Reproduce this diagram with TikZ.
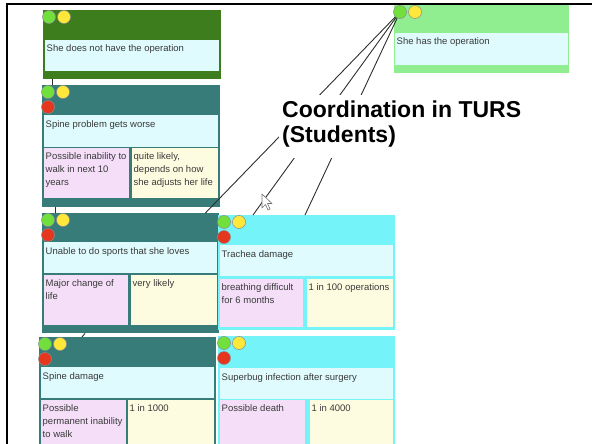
\documentclass[tikz,border=0pt]{standalone}
\usepackage{fontspec}
\setmainfont{Liberation Sans}
\usetikzlibrary{positioning, calc}
\definecolor{dkgreen}{HTML}{3E7D1E}
\definecolor{ltgreen}{HTML}{90EE90}
\definecolor{cardteal}{HTML}{387C7A}
\definecolor{brcyan}{HTML}{74F3F8}
\definecolor{bandcyan}{HTML}{DFFBFD}
\definecolor{pinkcell}{HTML}{F4DEF8}
\definecolor{creamcell}{HTML}{FEFCE0}
\definecolor{dotgreen}{HTML}{72E03C}
\definecolor{dotyellow}{HTML}{FFE83A}
\definecolor{dotred}{HTML}{E5361E}
\definecolor{txtgray}{HTML}{3A3A3A}
\definecolor{linkgray}{HTML}{2E2E2E}

\begin{document}
\begin{tikzpicture}[x=1pt, y=-1pt,
  card/.style={fill=#1, anchor=north west, inner sep=0pt},
  cardtext/.style={anchor=north west, inner sep=1.5pt, text=txtgray, align=left,
    font=\fontsize{9.5}{12.8}\selectfont},
  dot/.style={circle, fill=#1, draw=black!45, line width=0.5pt, minimum size=13pt, inner sep=0pt},
  link/.style={linkgray, line width=0.9pt},
  bigtext/.style={anchor=north west, inner sep=0pt, align=left,
    font=\fontsize{23}{24.5}\selectfont\bfseries}]

\useasboundingbox (0,0) rectangle (592,444);
\clip (0,0) rectangle (592,444);

% Cards (outer boxes)
\node[card=dkgreen, minimum width=178pt, minimum height=69pt] (nothave) at (43,10) {};
\node[card=ltgreen, minimum width=175pt, minimum height=68pt] (has) at (394,5) {};
\node[card=cardteal, minimum width=178pt, minimum height=122pt] (worse) at (42,85) {};
\node[card=cardteal, minimum width=177pt, minimum height=120pt] (sports) at (42,213) {};
\node[card=cardteal, minimum width=177pt, minimum height=120pt] (spinedmg) at (39,337) {};
\node[card=brcyan, minimum width=177pt, minimum height=115pt] (trachea) at (218,215) {};
\node[card=brcyan, minimum width=177pt, minimum height=120pt] (superbug) at (218,336) {};

% Title bands
\node[card=bandcyan, minimum width=174pt, minimum height=31pt] (nothave-b) at (45,40) {};
\node[card=bandcyan, minimum width=173pt, minimum height=32pt] (has-b) at (395,33) {};
\node[card=bandcyan, minimum width=174pt, minimum height=32pt] (worse-b) at (44,115) {};
\node[card=bandcyan, minimum width=173pt, minimum height=31pt] (sports-b) at (44,242) {};
\node[card=bandcyan, minimum width=173pt, minimum height=31pt] (spinedmg-b) at (41,367) {};
\node[card=bandcyan, minimum width=173pt, minimum height=31pt] (trachea-b) at (220,245) {};
\node[card=bandcyan, minimum width=173pt, minimum height=31pt] (superbug-b) at (220,368) {};

% Consequence and likelihood cells
\node[card=pinkcell, minimum width=85pt, minimum height=50pt] (worse-p) at (44,148) {};
\node[card=creamcell, minimum width=86pt, minimum height=50pt] (worse-c) at (132,148) {};
\node[card=pinkcell, minimum width=84pt, minimum height=50pt] (sports-p) at (44,275) {};
\node[card=creamcell, minimum width=86pt, minimum height=50pt] (sports-c) at (131,275) {};
\node[card=pinkcell, minimum width=85pt, minimum height=60pt] (spinedmg-p) at (41,400) {};
\node[card=creamcell, minimum width=86pt, minimum height=60pt] (spinedmg-c) at (128,400) {};
\node[card=pinkcell, minimum width=83pt, minimum height=48pt] (trachea-p) at (220,279) {};
\node[card=creamcell, minimum width=86pt, minimum height=48pt] (trachea-c) at (307,279) {};
\node[card=pinkcell, minimum width=85pt, minimum height=60pt] (superbug-p) at (220,400) {};
\node[card=creamcell, minimum width=83pt, minimum height=60pt] (superbug-c) at (310,400) {};

% Texts
\node[cardtext] (nothave-t) at ([shift={(0,3)}]nothave-b.north west) {She does not have the operation};
\node[cardtext] (has-t) at ([shift={(0,3)}]has-b.north west) {She has the operation};
\node[cardtext] (worse-t) at ([shift={(0,3.5)}]worse-b.north west) {Spine problem gets worse};
\node[cardtext] (worse-pt) at ([shift={(0,3)}]worse-p.north west) {Possible inability to\\walk in next 10\\years};
\node[cardtext] (worse-ct) at ([shift={(0,3)}]worse-c.north west) {quite likely,\\depends on how\\she adjusts her life};
\node[cardtext] (sports-t) at ([shift={(0,3.5)}]sports-b.north west) {Unable to do sports that she loves};
\node[cardtext] (sports-pt) at ([shift={(0,3)}]sports-p.north west) {Major change of\\life};
\node[cardtext] (sports-ct) at ([shift={(0,3)}]sports-c.north west) {very likely};
\node[cardtext] (spinedmg-t) at ([shift={(0,3.5)}]spinedmg-b.north west) {Spine damage};
\node[cardtext] (spinedmg-pt) at ([shift={(0,3)}]spinedmg-p.north west) {Possible\\permanent inability\\to walk};
\node[cardtext] (spinedmg-ct) at ([shift={(0,3)}]spinedmg-c.north west) {1 in 1000};
\node[cardtext] (trachea-t) at ([shift={(0,4)}]trachea-b.north west) {Trachea damage};
\node[cardtext] (trachea-pt) at ([shift={(0,3)}]trachea-p.north west) {breathing difficult\\for 6 months};
\node[cardtext] (trachea-ct) at ([shift={(0,3)}]trachea-c.north west) {1 in 100 operations};
\node[cardtext] (superbug-t) at ([shift={(0,3.5)}]superbug-b.north west) {Superbug infection after surgery};
\node[cardtext] (superbug-pt) at ([shift={(0,3)}]superbug-p.north west) {Possible death};
\node[cardtext] (superbug-ct) at ([shift={(0,3)}]superbug-c.north west) {1 in 4000};

% Links between cards
\draw[link] ([xshift=9pt]nothave.south west) -- ([xshift=10pt]worse.north west);
\draw[link] ([xshift=13pt]worse.south west) -- ([xshift=13pt]sports.north west);
\draw[link] ([xshift=43pt]sports.south west) -- ([xshift=43pt]spinedmg.north west);

% Coordination lines
\coordinate (has-pin) at ([shift={(6,7)}]has.north west);
\coordinate (sports-in) at ([xshift=-14pt]sports.north east);
\coordinate (trachea-in1) at ([xshift=35pt]trachea.north west);
\coordinate (trachea-in2) at ([xshift=87pt]trachea.north west);
\foreach \e in {sports-in, trachea-in1, trachea-in2}
  \draw[link] (has-pin) -- (\e);

% Caption
\node[card=white, minimum width=247pt, minimum height=63pt] (mask) at (279,95) {};
\node[bigtext] (caption) at ([shift={(3,6)}]mask.north west) {Coordination in TURS\\(Students)};

% Mouse pointer
\draw[fill=white, draw=black!55, line width=0.6pt, line join=round]
  (262,194) -- ++(0,14) -- ++(3.5,-3.5) -- ++(2.5,5.5) -- ++(2,-1)
  -- ++(-2.5,-5.5) -- ++(4.5,0) -- cycle;

% Traffic-light dots
\foreach \c in {nothave, has, worse, sports, spinedmg, trachea, superbug} {
  \node[dot=dotgreen] (\c-g) at ([shift={(6,7)}]\c.north west) {};
  \node[dot=dotyellow] (\c-y) at ([shift={(21,7)}]\c.north west) {};
}
\foreach \c in {worse, sports, spinedmg, trachea, superbug}
  \node[dot=dotred] (\c-r) at ([shift={(6,22)}]\c.north west) {};

% Frame
\draw[black, line width=2.2pt] (7,446) -- (7,4) -- (594,4);

\end{tikzpicture}
\end{document}
